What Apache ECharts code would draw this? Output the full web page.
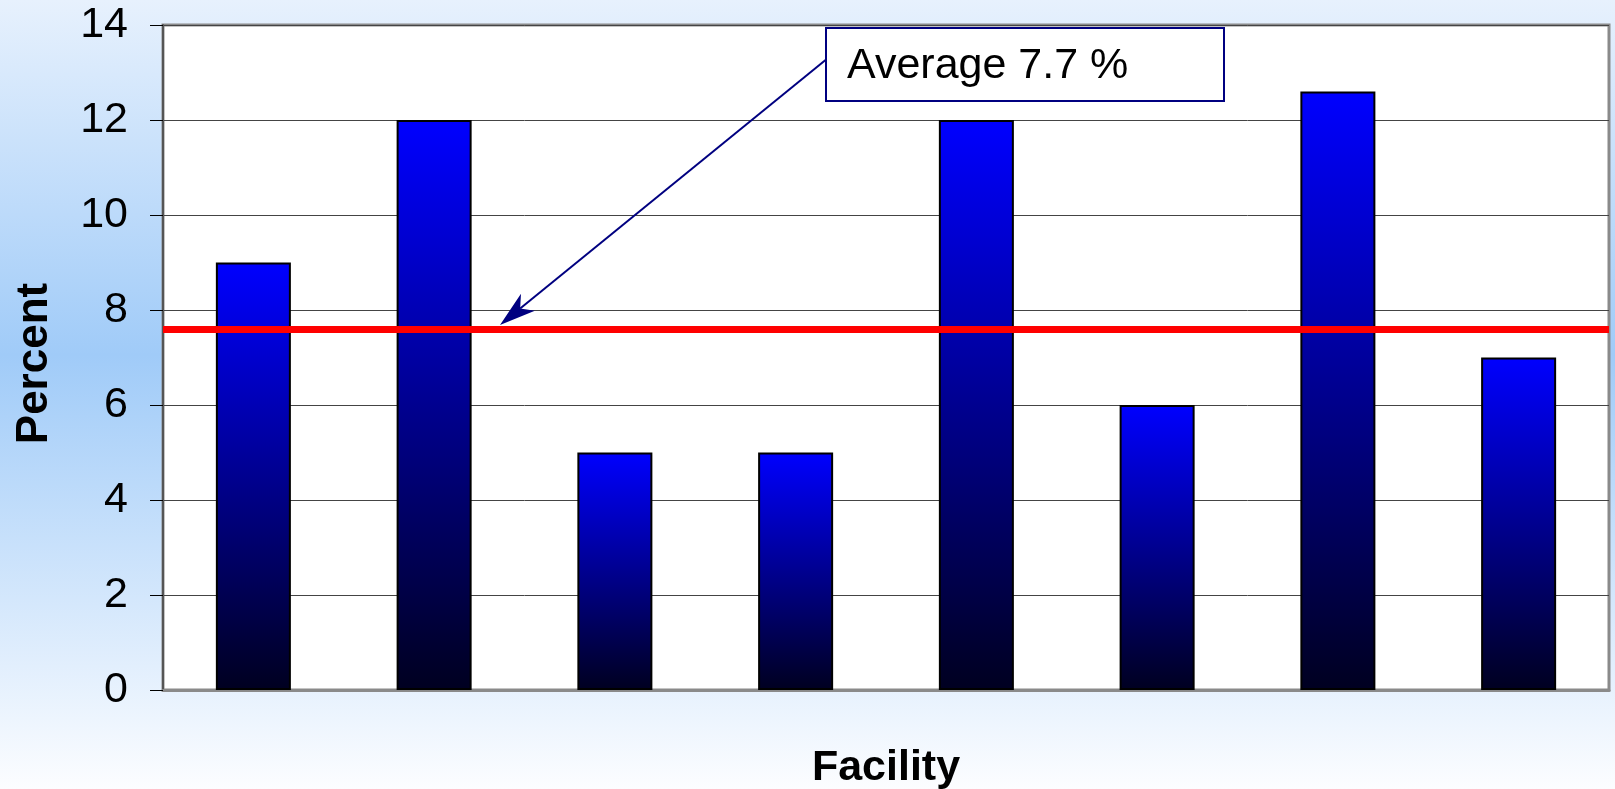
<!DOCTYPE html>
<html>
<head>
<meta charset="utf-8">
<script src="https://cdn.jsdelivr.net/npm/echarts@6/dist/echarts.min.js"></script>
<style>
html,body{margin:0;padding:0;width:1615px;height:789px;overflow:hidden;}
#main{width:1615px;height:789px;}
</style>
</head>
<body>
<div id="main"></div>
<script>
const categories = ['1','2','3','4','5','6','7','8'];
const percentValues = [9, 12, 5, 5, 12, 6, 12.6, 7];
const averageLine = 7.6;
const averageLabel = 'Average 7.7 %';
const yTicks = {min: 0, max: 14, interval: 2};
const xAxisTitle = 'Facility';
const yAxisTitle = 'Percent';

const FONT = '"Liberation Sans", Arial, sans-serif';
const chart = echarts.init(document.getElementById('main'), null, {renderer: 'canvas'});

const option = {
  animation: false,
  backgroundColor: new echarts.graphic.LinearGradient(0, 0, 0, 1, [
    {offset: 0, color: '#e7f1fd'},
    {offset: 0.45, color: '#a0cbf8'},
    {offset: 1, color: '#fcfdff'}
  ]),
  grid: {
    left: 163, top: 25, right: 6, bottom: 99,
    outerBoundsMode: 'none',
    containLabel: false,
    show: true, backgroundColor: '#ffffff', borderColor: '#8a8a8a', borderWidth: 3
  },
  xAxis: {
    type: 'category',
    data: categories,
    axisLabel: {show: false},
    axisTick: {show: false},
    axisLine: {show: true, lineStyle: {color: '#8a8a8a', width: 3}},
    name: xAxisTitle,
    nameLocation: 'middle',
    nameGap: 57,
    nameTextStyle: {fontFamily: FONT, fontSize: 43, fontWeight: 'bold', color: '#000'}
  },
  yAxis: {
    type: 'value',
    min: yTicks.min, max: yTicks.max, interval: yTicks.interval,
    axisLine: {show: true, lineStyle: {color: '#555', width: 2}},
    axisTick: {show: true, length: 13, lineStyle: {color: '#000', width: 1}},
    axisLabel: {margin: 35, fontFamily: FONT, fontSize: 43, color: '#000'},
    splitLine: {show: true, lineStyle: {color: '#444', width: 1}},
    name: yAxisTitle,
    nameLocation: 'middle',
    nameRotate: 90,
    nameGap: 106,
    nameTextStyle: {fontFamily: FONT, fontSize: 44, fontWeight: 'bold', color: '#000', padding: [0, 12, 0, 0]}
  },
  series: [{
    type: 'bar',
    data: percentValues,
    barWidth: '41.5%',
    itemStyle: {
      color: new echarts.graphic.LinearGradient(0, 0, 0, 1, [
        {offset: 0, color: '#0000ff'},
        {offset: 1, color: '#000020'}
      ]),
      borderColor: '#000',
      borderWidth: 2
    },
    markLine: {
      silent: true,
      symbol: ['none', 'none'],
      label: {show: false},
      lineStyle: {color: '#ff0000', width: 7, type: 'solid'},
      data: [{yAxis: averageLine}],
      z: 5
    }
  }]
};
chart.setOption(option);

// Annotation box + arrow pointing at the average line
const tipY = chart.convertToPixel({yAxisIndex: 0}, averageLine) - 4;
const tipX = 500;
const startX = 828, startY = 58;
const dx = startX - tipX, dy = startY - tipY;
const len = Math.sqrt(dx*dx + dy*dy);
const ux = dx/len, uy = dy/len;
const px = -uy, py = ux;
const headLen = 36, headHalf = 11, notch = 26;
const bx = tipX + ux*headLen, by = tipY + uy*headLen;
const nx = tipX + ux*notch, ny = tipY + uy*notch;
chart.setOption({
  graphic: [
    {
      type: 'line', z: 100,
      shape: {x1: startX, y1: startY, x2: nx, y2: ny},
      style: {stroke: '#000080', lineWidth: 2}
    },
    {
      type: 'polygon', z: 101,
      shape: {points: [[tipX, tipY], [bx + px*headHalf, by + py*headHalf], [nx, ny], [bx - px*headHalf, by - py*headHalf]]},
      style: {fill: '#000080'}
    },
    {
      type: 'rect', z: 102,
      shape: {x: 826, y: 28, width: 398, height: 73},
      style: {fill: '#ffffff', stroke: '#000080', lineWidth: 2}
    },
    {
      type: 'text', z: 103,
      x: 847, y: 66,
      style: {text: averageLabel, fontFamily: FONT, fontSize: 43, fill: '#000', verticalAlign: 'middle', align: 'left'}
    }
  ]
});
</script>
</body>
</html>
